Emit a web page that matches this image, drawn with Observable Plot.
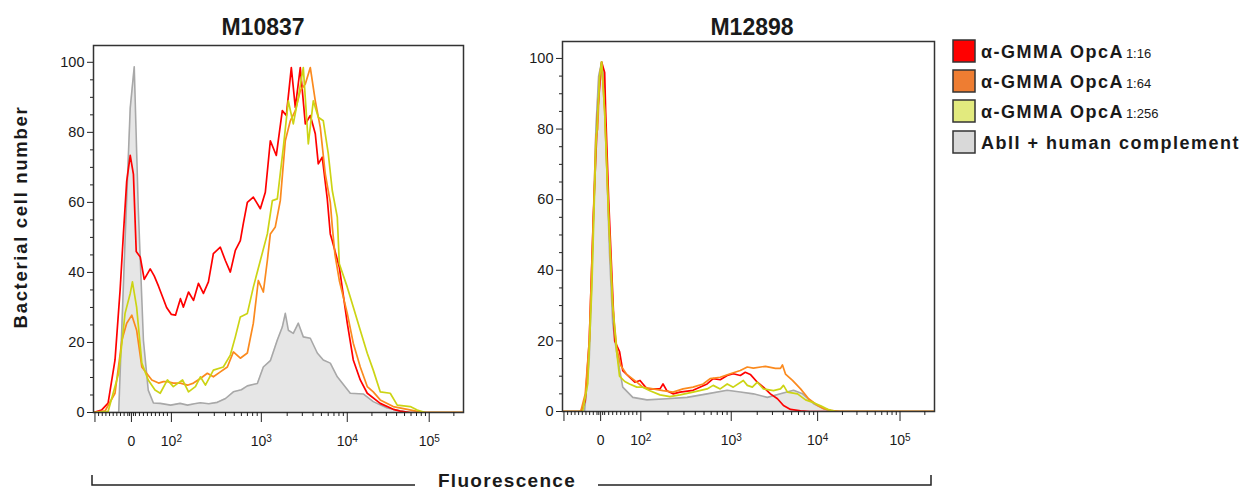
<!DOCTYPE html>
<html>
<head>
<meta charset="utf-8">
<script src="https://cdn.jsdelivr.net/npm/d3@7"></script>
<script src="https://cdn.jsdelivr.net/npm/@observablehq/plot@0.6"></script>
<style>
  body { margin: 0; background: #fff; }
  #root { position: relative; width: 1257px; height: 492px; font-family: 'Liberation Sans', Arial, sans-serif; }
  #root > svg, #root > .panel { position: absolute; top: 0; }
</style>
</head>
<body>
<div id="root"></div>
<script>
// ---------- DATA ----------
const panelTitles = ["M10837", "M12898"];
const seriesNames = ["α-GMMA OpcA", "α-GMMA OpcA", "α-GMMA OpcA", "AbII + human complement"];
const seriesDilutions = ["1:16", "1:64", "1:256", ""];
const yLabel = "Bacterial cell number";
const xLabel = "Fluorescence";

const yMajorTicks = [0, 20, 40, 60, 80, 100];
const yMinorTicks = [5, 10, 15, 25, 30, 35, 45, 50, 55, 65, 70, 75, 85, 90, 95];
const xLabelTicks = [0, 1e2, 1e3, 1e4, 1e5];
const xLabelText = ["0", "10^2", "10^3", "10^4", "10^5"];
const xMajorTicks = [-100, 0, 1e2, 1e3, 1e4, 1e5];
const xMinorTicks = [-90, -80, -70, -60, -50, -40, -30, -20, -10, -5, 5, 10, 20, 30, 40, 50, 60, 70, 80, 90,
  200, 300, 400, 500, 600, 700, 800, 900,
  2000, 3000, 4000, 5000, 6000, 7000, 8000, 9000,
  20000, 30000, 40000, 50000, 60000, 70000, 80000, 90000, 200000];

// M10837 — [fluorescence, count]
const m10837_grey = [[-104,0],[-35,0],[-17.5,49],[-3.3,87],[7,98.7],[17,58.6],[30,20.6],[42,6.4],[55,2.7],[72,2.6],[98,2.1],[125,2.6],[151,2.1],[180,2.5],[210,2.8],[260,2.5],[324,2.9],[400,4],[489,5.9],[600,6.5],[699,7.6],[903,8.3],[1055,13],[1273,14.8],[1535,20.7],[1754,24.4],[1901,28.3],[2061,23.5],[2355,22.6],[2694,25.5],[3078,21.6],[3715,21.2],[4478,17],[5260,15],[6346,14.1],[7656,10.2],[10880,5.5],[15670,5.3],[20760,3.1],[30750,1.3],[44290,0.5],[58650,0],[262144,0]];
const m10837_red = [[-104,0],[-82,0.7],[-64,2.7],[-45,15],[-31,35],[-22,51],[-13,66],[-3.3,73.4],[5,68],[12,46],[22,44.4],[32,38],[47,41],[57,39],[68,36],[78,33],[88,30],[100,28],[111,27.8],[126,32.5],[136,30.1],[155,34.4],[176,32],[200,36.9],[227,34],[258,37.3],[293,45.4],[350,47.2],[398,43.4],[452,40.1],[514,46.3],[584,49.1],[631,54],[699,60],[815,61.5],[975,58.2],[1113,62.9],[1273,77.6],[1494,73.4],[1754,86.2],[1953,84.8],[2233,98.5],[2485,87.1],[2840,98.5],[3249,82.4],[3715,84.8],[4245,79.6],[4600,71],[5117,72.9],[5852,61],[6346,51],[6698,49],[8080,41.5],[10000,25.5],[11840,15],[14410,9.3],[17540,5.5],[25250,2.6],[36380,0.9],[44290,0.4],[58650,0],[262144,0]];
const m10837_orange = [[-104,0],[-72,0.5],[-45,5.5],[-26,20.7],[-13,25.5],[1,27.8],[13,23.5],[26,13],[38,11.2],[51,9.3],[68,8.4],[80,8.8],[90,8.8],[105,8.4],[126,8.4],[151,7.8],[176,8.4],[210,9.7],[251,11.2],[293,10.2],[350,11.6],[419,13],[489,17.3],[584,15.5],[699,17],[815,25.5],[926,37.7],[1055,34.4],[1175,43.4],[1273,51],[1454,53],[1662,60.5],[1901,77.6],[2174,83.3],[2485,86.2],[2840,91.9],[3249,93.8],[3715,98.5],[4245,89],[4853,81.4],[5548,68.1],[6346,60],[6698,53],[7200,45],[8080,37.7],[10000,28.3],[11840,19.8],[14410,13],[17540,7.4],[20760,5.9],[25250,3.6],[36380,1.7],[53950,0.9],[71450,0.3],[89330,0],[262144,0]];
const m10837_yellow = [[-104,0],[-64,0.3],[-35,11.2],[-17.5,28.3],[-3.3,34],[2.5,37.3],[13,30.1],[26,14.1],[42,9.3],[59,6.4],[72,5.5],[90,9.3],[105,7.4],[133,9.3],[155,5.9],[185,7.4],[210,10.2],[239,7.8],[293,12.1],[378,13],[452,16.4],[514,21.6],[584,27.3],[699,28.3],[815,35.8],[975,43.4],[1175,51],[1343,60.5],[1535,61],[1803,75.7],[2061,89],[2355,82.4],[2694,90],[3078,98.5],[3521,76.7],[4024,89],[4600,84.3],[5260,83.3],[6012,73.9],[6690,63.4],[7656,55.8],[8080,42.5],[10000,35.8],[11840,30.1],[14410,23.5],[17540,16.9],[20760,12.1],[25250,5.9],[33440,5.5],[40740,2.1],[58650,1.7],[71450,0.7],[89330,0],[262144,0]];

// M12898 — [fluorescence, count]
const m12898_grey = [[-104,0],[-44,0],[-31,15],[-22,45],[-13,80],[-5.5,95],[2.5,99],[7.5,95],[15,70],[22,45],[30,25],[39,17.3],[55,6.9],[80,4],[117,3.3],[194,3.6],[324,4],[541,5],[903,6],[1273,5.5],[1803,5],[2621,4],[3715,5],[5260,6],[6698,5],[8980,2.2],[11840,0.8],[14410,0.2],[19070,0],[262144,0]];
const m12898_red = [[-104,0],[-53,0],[-42,3],[-31,20],[-20,55],[-8,85],[2.5,99],[10,96],[12.5,85],[20,60],[27.5,40],[35,20],[47,17],[55,11.6],[72,9.7],[85,8.3],[98,8.8],[117,6.4],[136,6.4],[163,6.4],[176,7.8],[194,5.9],[227,5],[271,5.5],[378,6],[541,7.8],[631,9.3],[755,9],[903,10.2],[1055,10.7],[1273,10.2],[1454,11.1],[1662,10.5],[2006,8.3],[2355,6.9],[2840,5],[3427,3.6],[4024,1.7],[4853,0.6],[6346,0.2],[8080,0],[262144,0]];
const m12898_orange = [[-104,0],[-57,0],[-53,0.5],[-42,5],[-31,20],[-22,48],[-13,78],[-8,80],[-2.7,95],[2.5,99],[10,85],[20,55],[30,30],[40,18],[50,13],[65,10.5],[90,8.3],[105,6.9],[136,6.4],[176,5.9],[227,5.5],[293,6.4],[378,6.9],[489,7.8],[584,9.3],[755,9.7],[975,10.7],[1273,11.6],[1535,12.6],[1803,12.3],[2485,12.8],[3249,12.2],[3715,12.2],[3917,13.2],[4245,10.6],[5117,8.8],[6346,6.4],[7855,3.6],[10000,1.7],[11840,0.8],[14410,0.3],[19070,0],[262144,0]];
const m12898_yellow = [[-104,0],[-49,0],[-35,8],[-24,35],[-13,75],[-2.7,95],[2.5,99],[10,85],[20,55],[30,30],[40,16.8],[47,10],[60,8.5],[72,7.8],[90,6.9],[105,6.9],[126,5.9],[163,4.7],[210,4.2],[271,4.7],[378,5.5],[541,6.4],[631,7.4],[755,6.4],[903,7.8],[1055,6.9],[1380,8.8],[1535,7.4],[1754,6.9],[2006,8.3],[2355,6.4],[3078,5.9],[3715,6.4],[4024,7.4],[4478,5.5],[5852,5],[7250,3.3],[8980,2.5],[10880,1.6],[13240,0.6],[16600,0],[262144,0]];

const xDomain = [-104, 262144];

// ---------- STYLE ----------
const FONT = "'Liberation Sans', Arial, sans-serif";
const INK = "#1a1a1a";
const lineColors = ["#ff0000", "#fb8a1e", "#ccd414"];
const swatchColors = ["#ff0000", "#ee7d32", "#e2ea7e", "#d9d9d9"];
const greyFill = "#e6e6e6", greyStroke = "#a8a8a8";

// biexponential-like display transform (linear around zero, log above 10^2)
function fx(v) {
  if (v < 0) return v * 0.365;
  if (v <= 100) return v * 0.4;
  if (v <= 1e3) return 40 + 90 * Math.log10(v / 1e2);
  if (v <= 1e4) return 130 + 86 * Math.log10(v / 1e3);
  return 216 + 82 * Math.log10(v / 1e4);
}
const labelByPos = new Map(xLabelTicks.map((v, i) => [fx(v), xLabelText[i]]));

function panel(grey, lines, o) {
  const X = d => fx(d[0]), Y = d => d[1];
  const chart = Plot.plot({
    width: o.width, height: o.height,
    marginLeft: o.ml, marginRight: o.mr, marginTop: o.mt, marginBottom: o.mb,
    x: {type: "linear", domain: xDomain.map(fx)},
    y: {domain: [0, o.yTop]},
    style: {fontFamily: FONT, fontSize: "14px", color: INK, background: "transparent", overflow: "visible"},
    marks: [
      Plot.areaY(grey, {x: X, y: Y, fill: greyFill, clip: true}),
      Plot.lineY(grey, {x: X, y: Y, stroke: greyStroke, strokeWidth: 1.6, clip: true}),
      ...lines.map((s, i) => Plot.lineY(s, {x: X, y: Y, stroke: lineColors[i], strokeWidth: 1.7, clip: true})),
      Plot.frame({stroke: "#333", strokeWidth: 1.5}),
      Plot.axisY({ticks: yMinorTicks, tickSize: 3, tickFormat: () => "", label: null, stroke: "#222"}),
      Plot.axisY({ticks: yMajorTicks, tickSize: 6, tickPadding: 3, label: null, stroke: "#222", fontSize: 14.5}),
      Plot.axisX({ticks: xMinorTicks.map(fx), tickSize: 4, tickFormat: () => "", label: null, stroke: "#222"}),
      Plot.axisX({ticks: xMajorTicks.map(fx), tickSize: 10, tickFormat: () => "", label: null, stroke: "#222"}),
      Plot.axisX({ticks: xLabelTicks.map(fx), tickSize: 0, tickPadding: 24, label: null,
        tickFormat: d => labelByPos.get(d) ?? "", fontSize: 14})
    ]
  });
  // render "10^n" as 10 with superscript n
  d3.select(chart).selectAll("text").each(function() {
    const t = this.textContent;
    if (t.includes("^")) {
      const [base, exp] = t.split("^");
      const sel = d3.select(this);
      sel.text(null);
      sel.append("tspan").text(base);
      sel.append("tspan").attr("dy", "-0.45em").attr("font-size", "10px").text(exp);
    }
  });
  chart.classList.add("panel");
  chart.style.left = o.left + "px";
  return chart;
}

const root = document.getElementById("root");
root.appendChild(panel(m10837_grey, [m10837_red, m10837_orange, m10837_yellow],
  {left: 0, width: 470, height: 460, ml: 93, mr: 7, mt: 45, mb: 48, yTop: 104.8}));
root.appendChild(panel(m12898_grey, [m12898_red, m12898_orange, m12898_yellow],
  {left: 470, width: 470, height: 460, ml: 92, mr: 6, mt: 41, mb: 49, yTop: 104.8}));

// ---------- overlay: titles, axis label, bracket, legend ----------
const ov = d3.select(root).append("svg")
  .attr("width", 1257).attr("height", 492)
  .style("left", "0px").style("pointer-events", "none")
  .attr("font-family", FONT).attr("fill", INK);

ov.append("text").attr("x", 263).attr("y", 35).attr("text-anchor", "middle")
  .attr("font-size", 23).attr("font-weight", "bold").text(panelTitles[0]);
ov.append("text").attr("x", 752).attr("y", 35).attr("text-anchor", "middle")
  .attr("font-size", 23).attr("font-weight", "bold").text(panelTitles[1]);

ov.append("text").attr("transform", "translate(27,217) rotate(-90)").attr("text-anchor", "middle")
  .attr("font-size", 18.5).attr("font-weight", "bold").attr("letter-spacing", "1.7px").text(yLabel);

ov.append("path").attr("d", "M92,475V485H415M598,485H931V475")
  .attr("fill", "none").attr("stroke", "#222").attr("stroke-width", 1.5);
ov.append("text").attr("x", 507).attr("y", 487).attr("text-anchor", "middle")
  .attr("font-size", 19).attr("font-weight", "bold").attr("letter-spacing", "1.3px").text(xLabel);

const legendTop = [40, 70, 100, 131];
seriesNames.forEach((name, i) => {
  const y0 = legendTop[i];
  ov.append("rect").attr("x", 953).attr("y", y0).attr("width", 22).attr("height", 22)
    .attr("fill", swatchColors[i]).attr("stroke", "#333").attr("stroke-width", 1.5);
  const t = ov.append("text").attr("x", 981).attr("y", y0 + 18);
  t.append("tspan").attr("font-size", 18).attr("font-weight", "bold").attr("letter-spacing", "1.5px").text(name);
  if (seriesDilutions[i]) t.append("tspan").attr("font-size", 13).attr("dx", 2).text(seriesDilutions[i]);
});
</script>
</body>
</html>
